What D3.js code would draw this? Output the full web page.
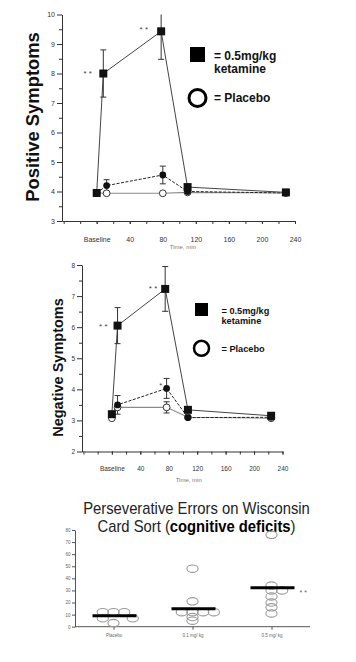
<!DOCTYPE html>
<html><head><meta charset="utf-8">
<script src="https://cdn.jsdelivr.net/npm/d3@7"></script>
<style>
body{margin:0;background:#fff;}
svg{display:block;font-family:"Liberation Sans",Arial,sans-serif;}
</style></head><body>
<svg id="c" width="356" height="662"></svg>
<script>
// ---------- DATA ----------
// Positive symptoms (time in min, mean, error)
const posKetTimes = [0, 8, 78, 110, 229];
const posKetVals  = [3.95, 8.0, 9.43, 4.15, 3.97];
const posKetErr   = [0, 0.8, 0.95, 0, 0];
const posLowTimes = [0, 12, 80, 110, 229];
const posLowVals  = [3.95, 4.2, 4.56, 4.0, 3.95];
const posLowErr   = [0, 0.2, 0.3, 0, 0];
const posPlaTimes = [0, 12, 80, 110, 229];
const posPlaVals  = [3.95, 3.94, 3.94, 3.97, 3.95];
const posPlaErr   = [0, 0, 0, 0, 0];
// Negative symptoms
const negKetTimes = [0, 8, 75, 107, 224];
const negKetVals  = [3.2, 6.05, 7.23, 3.34, 3.15];
const negKetErr   = [0, 0.58, 0.72, 0, 0];
const negLowTimes = [0, 8, 77, 107, 224];
const negLowVals  = [3.2, 3.5, 4.03, 3.09, 3.1];
const negLowErr   = [0, 0.3, 0.32, 0, 0];
const negPlaTimes = [0, 8, 77, 107, 224];
const negPlaVals  = [3.07, 3.42, 3.42, 3.1, 3.07];
const negPlaErr   = [0, 0, 0.18, 0, 0];
// Time axis ticks
const timeTicks = [0, 40, 80, 120, 160, 200, 240];
const timeTickLabels = ["Baseline", "40", "80", "120", "160", "200", "240"];
const timeMinorTicks = [-40, -20, 0, 20, 40, 60, 80, 100, 120, 140, 160, 180, 200, 220, 240];
// Wisconsin Card Sort perseverative errors
const wcsCategories = ["Placebo", "0.1 mg/ kg", "0.5 mg/ kg"];
const wcsPlacebo     = [12, 12, 12, 7, 7, 3];
const wcsPlaceboCols = [-1, 0, 1, -1, 1.8, 0];
const wcsLow         = [48, 21, 12, 12, 12, 12, 8, 5];
const wcsLowCols     = [0, 0, -1, 0, 1, 2, 0, 0];
const wcsHigh        = [76, 34, 30, 30, 25, 20, 16, 11];
const wcsHighCols    = [0, 0, 0, 1, 0, 0, 0, 0];
const wcsMeans       = [9, 14.8, 32.3];
const wcsTicks       = [0, 10, 20, 30, 40, 50, 60, 70, 80];

// ---------- DRAW ----------
const svg = d3.select("#c");
const FONT = '"Liberation Sans",Arial,sans-serif';

function styleAxis(sel, fs) {
  sel.attr("font-family", FONT).attr("font-size", fs || 7);
  sel.selectAll("path,line").attr("stroke", "#333").attr("stroke-width", 1);
  sel.selectAll("text").attr("fill", "#333");
}

function zipSeries(t, v, e) { return t.map((d, i) => ({t: d, v: v[i], e: e[i]})); }

function timeChart(o) {
  const g = svg.append("g");
  const x = d3.scaleLinear().domain([-42, 240]).range(o.xr);
  const y = d3.scaleLinear().domain(o.yd).range(o.yr);
  const yMaj = d3.range(o.yd[0], o.yd[1] + 1);
  const yMin = d3.range(o.yd[0] + 0.5, o.yd[1], 1);

  g.append("g").attr("transform", `translate(${o.xr[0]},0)`)
    .call(d3.axisLeft(y).tickValues(yMaj).tickSize(5).tickSizeOuter(0).tickPadding(2).tickFormat(d3.format("d")))
    .call(styleAxis, o.tickFs);
  g.append("g").attr("transform", `translate(${o.xr[0]},0)`)
    .call(d3.axisLeft(y).tickValues(yMin).tickSize(3).tickFormat(""))
    .call(styleAxis).select(".domain").remove();

  g.append("g").attr("transform", `translate(0,${o.yr[0]})`)
    .call(d3.axisBottom(x).tickValues(timeTicks).tickSize(3).tickSizeOuter(0).tickPadding(o.xPad)
      .tickFormat((d, i) => timeTickLabels[i]))
    .call(styleAxis, o.tickFs);
  g.append("g").attr("transform", `translate(0,${o.yr[0]})`)
    .call(d3.axisBottom(x).tickValues(timeMinorTicks).tickSize(3).tickFormat(""))
    .call(styleAxis).select(".domain").remove();

  g.append("text").attr("x", x(80) + 20).attr("y", o.xTitleY).attr("text-anchor", "middle")
    .attr("font-size", 6).attr("fill", "#777").text("Time, min");

  g.append("text").attr("transform", `translate(${o.labelX},${o.labelY}) rotate(-90)`)
    .attr("text-anchor", "middle").attr("font-weight", "bold").attr("font-size", o.labelFs)
    .attr("fill", "#111").text(o.label);

  const line = d3.line().x(d => x(d.t)).y(d => y(d.v));
  const pla = zipSeries(...o.pla), low = zipSeries(...o.low), ket = zipSeries(...o.ket);

  g.append("path").datum(pla).attr("d", line).attr("fill", "none").attr("stroke", "#8a8a8a").attr("stroke-width", 1.1);
  g.append("path").datum(low).attr("d", line).attr("fill", "none").attr("stroke", "#222").attr("stroke-width", 1).attr("stroke-dasharray", "3,1.5");
  g.append("path").datum(ket).attr("d", line).attr("fill", "none").attr("stroke", "#444").attr("stroke-width", 1);

  const top = o.yd[1];
  function errBars(data) {
    const eb = g.append("g").attr("stroke", "#333").attr("stroke-width", 1);
    data.filter(d => d.e > 0).forEach(d => {
      const hi = Math.min(d.v + d.e, top), lo = d.v - d.e;
      eb.append("line").attr("x1", x(d.t)).attr("x2", x(d.t)).attr("y1", y(hi)).attr("y2", y(lo));
      [hi, lo].forEach(val => {
        if (val === top) return;
        eb.append("line").attr("x1", x(d.t) - 3).attr("x2", x(d.t) + 3).attr("y1", y(val)).attr("y2", y(val));
      });
    });
  }
  errBars(pla); errBars(low); errBars(ket);

  g.selectAll(null).data(pla).join("circle").attr("cx", d => x(d.t)).attr("cy", d => y(d.v))
    .attr("r", 3.4).attr("fill", "#fff").attr("stroke", "#333").attr("stroke-width", 1);
  g.selectAll(null).data(low).join("circle").attr("cx", d => x(d.t)).attr("cy", d => y(d.v))
    .attr("r", 3.4).attr("fill", "#111");
  g.selectAll(null).data(ket).join("rect").attr("x", d => x(d.t) - 4).attr("y", d => y(d.v) - 4)
    .attr("width", 8).attr("height", 8).attr("fill", "#111");

  // stars
  o.stars.forEach(s => {
    g.append("text").attr("x", x(s.t)).attr("y", y(s.v)).attr("text-anchor", "middle")
      .attr("font-size", 8).attr("fill", "#444").text(s.txt);
  });

  // legend
  const L = o.legend;
  g.append("rect").attr("x", L.x).attr("y", L.y).attr("width", L.sq).attr("height", L.sq).attr("fill", "#000");
  g.append("text").attr("x", L.tx).attr("y", L.y + L.sq - 2).attr("font-weight", "bold").attr("font-size", L.fs).attr("fill", "#111").text("= 0.5mg/kg");
  g.append("text").attr("x", L.tx).attr("y", L.y + L.sq - 2 + L.fs * 1.12).attr("font-weight", "bold").attr("font-size", L.fs).attr("fill", "#111").text("ketamine");
  g.append("circle").attr("cx", L.x + L.sq / 2).attr("cy", L.cy).attr("r", L.r).attr("fill", "#fff").attr("stroke", "#000").attr("stroke-width", L.sw);
  g.append("text").attr("x", L.tx).attr("y", L.cy + L.fs * 0.36).attr("font-weight", "bold").attr("font-size", L.fs).attr("fill", "#111").text("= Placebo");
}

timeChart({
  xr: [62, 295], yd: [3, 10], yr: [221, 14.5], tickFs: 7, xPad: 13, xTitleY: 249,
  label: "Positive Symptoms", labelX: 38.5, labelY: 117, labelFs: 18.4,
  pla: [posPlaTimes, posPlaVals, posPlaErr], low: [posLowTimes, posLowVals, posLowErr], ket: [posKetTimes, posKetVals, posKetErr],
  stars: [{t: -11, v: 7.9, txt: "* *"}, {t: 57, v: 9.4, txt: "* *"}],
  legend: {x: 190, y: 47, sq: 15, tx: 214, fs: 12, cy: 98, r: 8.5, sw: 3}
});

timeChart({
  xr: [82, 282.5], yd: [2, 8], yr: [451.5, 265], tickFs: 6.5, xPad: 12, xTitleY: 482,
  label: "Negative Symptoms", labelX: 63, labelY: 367.5, labelFs: 14.5,
  pla: [negPlaTimes, negPlaVals, negPlaErr], low: [negLowTimes, negLowVals, negLowErr], ket: [negKetTimes, negKetVals, negKetErr],
  stars: [{t: -12, v: 5.95, txt: "* *"}, {t: 58, v: 7.15, txt: "* *"}, {t: 69, v: 4.05, txt: "*"}],
  legend: {x: 195, y: 303, sq: 13, tx: 221.5, fs: 9.2, cy: 348.3, r: 7.5, sw: 2.5}
});

// ---------- Wisconsin Card Sort ----------
(function () {
  const g = svg.append("g");
  const y = d3.scaleLinear().domain([0, 80]).range([626.7, 530]);
  const x = d3.scalePoint().domain(wcsCategories).range([113.5, 271.5]);
  const col = d3.scaleLinear().domain([0, 1]).range([0, 10.7]);

  const title = g.append("g").attr("transform", "translate(196.5,0) scale(0.87,1)");
  title.append("text").attr("y", 514).attr("text-anchor", "middle").attr("font-size", 17).attr("fill", "#222")
    .text("Perseverative Errors on Wisconsin");
  const t2 = title.append("text").attr("y", 532).attr("text-anchor", "middle").attr("font-size", 17).attr("fill", "#222");
  t2.append("tspan").text("Card Sort (");
  t2.append("tspan").attr("font-weight", "bold").attr("fill", "#000").text("cognitive deficits");
  t2.append("tspan").text(")");

  const ya = g.append("g").attr("transform", "translate(75,0)")
    .call(d3.axisLeft(y).tickValues(wcsTicks).tickSize(3).tickSizeOuter(0).tickPadding(1.5));
  styleAxis(ya, 4.5);
  ya.selectAll("path,line").attr("stroke", "#555");
  ya.selectAll("text").attr("fill", "#666");
  g.append("line").attr("x1", 75).attr("x2", 310).attr("y1", y(0)).attr("y2", y(0)).attr("stroke", "#555").attr("stroke-width", 1);
  const xa = g.append("g").attr("transform", `translate(0,${y(0)})`)
    .call(d3.axisBottom(x).tickSize(3).tickSizeOuter(0).tickPadding(4));
  styleAxis(xa, 4.5);
  xa.select(".domain").remove();
  xa.selectAll("line").attr("stroke", "#555");
  xa.selectAll("text").attr("fill", "#666");

  const groups = [[wcsPlacebo, wcsPlaceboCols], [wcsLow, wcsLowCols], [wcsHigh, wcsHighCols]];
  groups.forEach((gr, gi) => {
    const cx = x(wcsCategories[gi]);
    const pts = gr[0].map((v, i) => ({v, c: gr[1][i]}));
    g.selectAll(null).data(pts).join("ellipse")
      .attr("cx", d => cx + col(d.c)).attr("cy", d => y(d.v))
      .attr("rx", 5.6).attr("ry", 3.7).attr("fill", "none").attr("stroke", "#9a9a9a").attr("stroke-width", 1.1);
  });
  g.selectAll(null).data(wcsMeans).join("line")
    .attr("x1", (d, i) => x(wcsCategories[i]) - 21).attr("x2", (d, i) => x(wcsCategories[i]) + 23)
    .attr("y1", d => y(d)).attr("y2", d => y(d)).attr("stroke", "#000").attr("stroke-width", 3);
  g.append("text").attr("x", x(wcsCategories[2]) + 28).attr("y", y(26)).attr("font-size", 7).attr("fill", "#666").text("* *");
})();
</script></body></html>
